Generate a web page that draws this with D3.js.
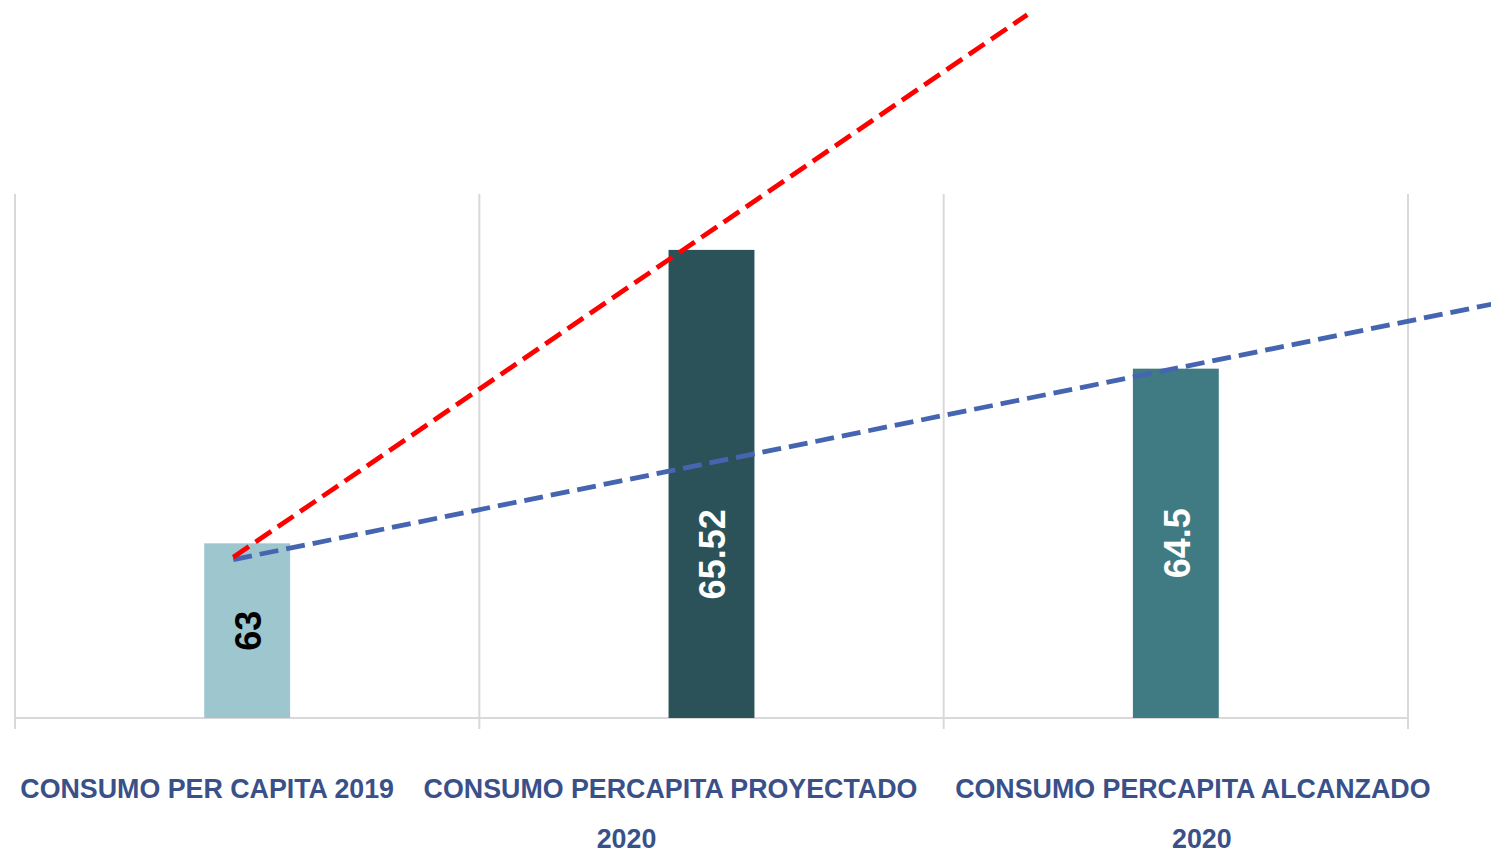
<!DOCTYPE html>
<html>
<head>
<meta charset="utf-8">
<script src="https://cdn.jsdelivr.net/npm/d3@7"></script>
<style>
    body { margin: 0; background: #fff; }
    svg { display: block; font-family: "Liberation Sans", Arial, sans-serif; }
</style>
</head>
<body>
<div id="chart"></div>
<script>
// categories and values
const categories = ["CONSUMO PER CAPITA 2019", "CONSUMO PERCAPITA PROYECTADO 2020", "CONSUMO PERCAPITA ALCANZADO 2020"];
const labelLines = [["CONSUMO PER CAPITA 2019"], ["CONSUMO PERCAPITA PROYECTADO", "2020"], ["CONSUMO PERCAPITA ALCANZADO", "2020"]];
const values = [63, 65.52, 64.5];
const valueLabels = ["63", "65.52", "64.5"];
const barColors = ["#9DC6CE", "#2C5259", "#407B83"];
const labelColors = ["#000000", "#ffffff", "#ffffff"];

// trendlines (category index, value)
const redTrend = [{i: -0.03, v: 62.88}, {i: 1.68, v: 67.54}];
const blueTrend = [{i: -0.03, v: 62.86}, {i: 2.75, v: 65.11}];

const yDomain = [61.5, 66];

const width = 1491, height = 854;
const margin = {top: 194, left: 15, right: 83, bottom: 136};
const plotBottom = height - margin.bottom;

const svg = d3.select("#chart").append("svg")
    .attr("width", width)
    .attr("height", height);

const x = d3.scaleBand()
    .domain(categories)
    .range([margin.left, width - margin.right])
    .padding(0);

const xi = d3.scaleLinear()
    .domain([-0.5, categories.length - 0.5])
    .range([margin.left, width - margin.right]);

const y = d3.scaleLinear()
    .domain(yDomain)
    .range([plotBottom, margin.top]);

const gridColor = "#D9D9D9";

// vertical category separators
const edges = d3.range(categories.length + 1).map(k => xi(k - 0.5));
svg.append("g").selectAll("line")
    .data(edges)
    .join("line")
    .attr("x1", d => d).attr("x2", d => d)
    .attr("y1", margin.top).attr("y2", plotBottom + 11)
    .attr("stroke", gridColor)
    .attr("stroke-width", 2);

// baseline
svg.append("line")
    .attr("x1", margin.left).attr("x2", width - margin.right)
    .attr("y1", plotBottom).attr("y2", plotBottom)
    .attr("stroke", gridColor)
    .attr("stroke-width", 2);

// bars
const barW = x.bandwidth() * 0.185;
svg.append("g").selectAll("rect")
    .data(values)
    .join("rect")
    .attr("x", (d, i) => x(categories[i]) + x.bandwidth() / 2 - barW / 2)
    .attr("y", d => y(d))
    .attr("width", barW)
    .attr("height", d => plotBottom - y(d))
    .attr("fill", (d, i) => barColors[i]);

// data labels (rotated)
svg.append("g").selectAll("text")
    .data(values)
    .join("text")
    .attr("transform", (d, i) => {
        let cx = x(categories[i]) + x.bandwidth() / 2;
        let cy = (y(d) + plotBottom) / 2;
        if (i == 1) cy = (y(values[2]) + plotBottom) / 2 + 11;
        return `translate(${cx + 1}, ${cy}) rotate(-90)`;
    })
    .attr("text-anchor", "middle")
    .attr("dy", "0.36em")
    .attr("font-size", 36)
    .attr("font-weight", "bold")
    .attr("fill", (d, i) => labelColors[i])
    .text((d, i) => valueLabels[i]);

// trendlines
const line = d3.line()
    .x(d => xi(d.i))
    .y(d => y(d.v));

svg.append("path")
    .datum(blueTrend)
    .attr("d", line)
    .attr("fill", "none")
    .attr("stroke", "#4665B0")
    .attr("stroke-width", 4.8)
    .attr("stroke-dasharray", "19 8");

svg.append("path")
    .datum(redTrend)
    .attr("d", line)
    .attr("fill", "none")
    .attr("stroke", "#FF0000")
    .attr("stroke-width", 4.8)
    .attr("stroke-dasharray", "19 8");

// category labels (Excel-like wrapping, placed as in the original)
const lineShift = [[-40], [-41, -85], [17, 26]];
const labels = svg.append("g")
    .attr("font-size", 26.8)
    .attr("font-weight", "bold")
    .attr("fill", "#3A5089")
    .attr("text-anchor", "middle");

labelLines.forEach((lines, i) => {
    lines.forEach((t, j) => {
        labels.append("text")
            .attr("x", x(categories[i]) + x.bandwidth() / 2 + lineShift[i][j])
            .attr("y", plotBottom + 80 + j * 50)
            .text(t);
    });
});
</script>
</body>
</html>
